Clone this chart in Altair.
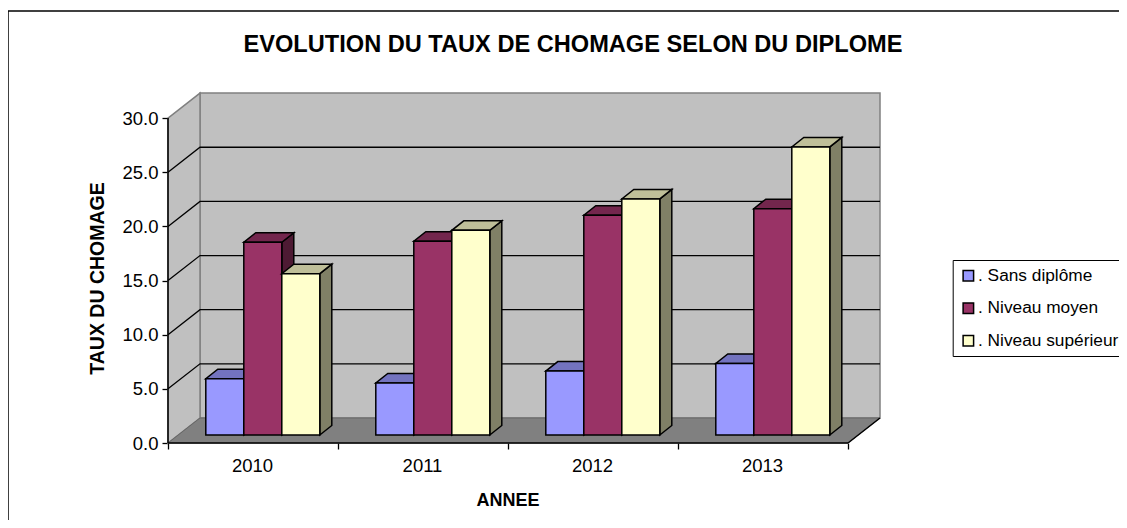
import altair as alt
import pandas as pd

YEARS = ["2010", "2011", "2012", "2013"]
SANS = [5.2, 4.8, 5.9, 6.6]
MOYEN = [17.8, 17.9, 20.3, 20.9]
SUPERIEUR = [14.9, 18.9, 21.8, 26.6]
SERIES = [". Sans diplôme", ". Niveau moyen", ". Niveau supérieur"]
FRONT = ["#9999FF", "#993366", "#FFFFCC"]
TOP = ["#7373BF", "#73264D", "#BFBF99"]
SIDE = ["#4D4D80", "#4D1A33", "#808066"]
GRID = [0, 5, 10, 15, 20, 25, 30]

W, H = 712, 350
PX = 170.0      # pixels per category
PY = 10.83      # pixels per value unit
DX, DY = 32 / PX, 25 / PY            # wall depth
BDX, BDY = 12 / PX, 9.5 / PY         # bar depth
BASE = 8 / PY                        # bar base lift
BSTART, BW = 37.8 / PX, 38 / PX
NC = len(YEARS)

font = "Liberation Sans"

xs = alt.Scale(domain=[0, W / PX], nice=False, zero=False)
ys = alt.Scale(domain=[0, H / PY], nice=False, zero=False)
AX = alt.Axis(
    values=list(range(NC + 1)), labels=False, grid=False, domain=False,
    tickSize=6, tickColor="black", tickWidth=1.3,
    title="ANNEE", titleFont=font, titleFontSize=18, titleFontWeight="bold",
    titleColor="black", titleX=339.5, titleY=57, titleBaseline="middle",
    titleAnchor="middle",
)
AY = alt.Axis(
    values=GRID, format=".1f", grid=False, domain=False, tickSize=6,
    tickColor="black", tickWidth=1.3, labelFont=font, labelFontSize=18.5,
    labelColor="black", labelPadding=4,
    title="TAUX DU CHOMAGE", titleFont=font, titleFontSize=19.5,
    titleFontWeight="bold", titleColor="black", titleX=-61, titleY=185,
    titleAnchor="middle",
)


def X(f="x:Q"):
    return alt.X(f, scale=xs, axis=AX)


def Y(f):
    return alt.Y(f, scale=ys, axis=AY)


def area(rows, fill, stroke, sw=1.0, detail=None):
    enc = dict(x=X(), y=Y("lo:Q"), y2=alt.Y2("hi:Q"))
    if detail:
        enc["detail"] = alt.Detail(detail + ":N")
    return alt.Chart(pd.DataFrame(rows)).mark_area(
        fill=fill, stroke=stroke, strokeWidth=sw, opacity=1
    ).encode(**enc)


# walls and floor
wall = alt.Chart(pd.DataFrame([dict(x=DX, x2=NC + DX, lo=DY, hi=30 + DY)])).mark_rect(
    fill="#C0C0C0", stroke="#808080", strokeWidth=1.5
).encode(x=X(), x2="x2:Q", y=Y("lo:Q"), y2="hi:Q")
side_wall = area(
    [dict(x=0, lo=0, hi=30), dict(x=DX, lo=DY, hi=30 + DY)], "#C0C0C0", "#808080", 1.5
)
floor = area(
    [dict(x=0, lo=0, hi=0), dict(x=DX, lo=0, hi=DY),
     dict(x=NC, lo=0, hi=DY), dict(x=NC + DX, lo=DY, hi=DY)],
    "#808080", "#666666", 1.0,
)

# gridlines
grid_rows = []
for v in GRID[1:-1]:
    for x, y in [(0, v), (DX, v + DY), (NC + DX, v + DY)]:
        grid_rows.append(dict(v=v, x=x, y=y))
grid = alt.Chart(pd.DataFrame(grid_rows)).mark_line(color="black", strokeWidth=1.3).encode(
    x=X(), y=Y("y:Q"), detail="v:N", order="x:Q",
)

# front edges of the box
edge_rows = [
    dict(k="l", x=0, y=0), dict(k="l", x=0, y=30),
    dict(k="b", x=0, y=0), dict(k="b", x=NC, y=0),
    dict(k="r", x=NC, y=0), dict(k="r", x=NC + DX, y=DY),
]
edges = alt.Chart(pd.DataFrame(edge_rows)).mark_line(color="black", strokeWidth=1.5).encode(
    x=X(), y=Y("y:Q"), detail="k:N", order="y:Q",
)

# bars
layers = [wall, side_wall, grid, floor, edges]
for s, (name, vals) in enumerate(zip(SERIES, [SANS, MOYEN, SUPERIEUR])):
    side_rows, top_rows, front_rows = [], [], []
    for i, (yr, v) in enumerate(zip(YEARS, vals)):
        xl = i + BSTART + s * BW
        xr = xl + BW
        t = BASE + v
        side_rows += [dict(g=yr, x=xr, lo=BASE, hi=t),
                      dict(g=yr, x=xr + BDX, lo=BASE + BDY, hi=t + BDY)]
        top_rows += [dict(g=yr, x=xl, lo=t, hi=t),
                     dict(g=yr, x=xl + BDX, lo=t, hi=t + BDY),
                     dict(g=yr, x=xr, lo=t, hi=t + BDY),
                     dict(g=yr, x=xr + BDX, lo=t + BDY, hi=t + BDY)]
        front_rows.append(dict(serie=name, x=xl, x2=xr, lo=BASE, hi=t))
    layers.append(area(side_rows, SIDE[s], "black", 1.5, "g"))
    layers.append(area(top_rows, TOP[s], "black", 1.5, "g"))
    legend = None
    if s == 0:
        legend = alt.Legend(
            title=None, orient="none", legendX=784.7, legendY=167,
            fillColor="white", strokeColor="black", padding=7,
            symbolType="square", symbolSize=110, symbolStrokeColor="black",
            symbolStrokeWidth=1.5, symbolOpacity=1,
            labelFont=font, labelFontSize=17.3, labelColor="black",
            labelOffset=1, rowPadding=14.5, labelLimit=300,
        )
    layers.append(
        alt.Chart(pd.DataFrame(front_rows)).mark_rect(stroke="black", strokeWidth=1.5).encode(
            x=X(), x2="x2:Q", y=Y("lo:Q"), y2="hi:Q",
            color=alt.Color(
                "serie:N",
                scale=alt.Scale(domain=SERIES, range=FRONT),
                legend=legend,
            ),
        )
    )

# category labels
year_df = pd.DataFrame(dict(year=YEARS, x=[i + 0.5 for i in range(NC)]))
layers.append(
    alt.Chart(year_df).mark_text(
        font=font, fontSize=18.5, color="black", baseline="middle", align="center", dx=-0.5
    ).encode(x=X(), y=alt.value(H + 23), text="year:N")
)

# outer frame (top and left edges)
layers.append(
    alt.Chart(pd.DataFrame(dict(a=[0]))).mark_rule(color="black", strokeWidth=1.5).encode(
        x=alt.value(-160), x2=alt.value(960), y=alt.value(-82)
    )
)
layers.append(
    alt.Chart(pd.DataFrame(dict(a=[0]))).mark_rule(color="black", strokeWidth=1.5).encode(
        x=alt.value(-160), y=alt.value(-82), y2=alt.value(430)
    )
)

chart = alt.layer(*layers).resolve_scale(color="shared").properties(
    width=W,
    height=H,
    padding={"left": 160, "top": 85, "right": 239, "bottom": 77},
    autosize=alt.AutoSizeParams(type="none"),
    background="white",
    title=alt.TitleParams(
        "EVOLUTION DU TAUX DE CHOMAGE SELON DU DIPLOME",
        font=font, fontSize=23.6, fontWeight="bold", color="black",
        anchor="middle", frame="group", dx=49, offset=-46.5,
    ),
).configure_view(stroke=None)

chart.save("out.html", embed_options={"renderer": "svg", "actions": False})
